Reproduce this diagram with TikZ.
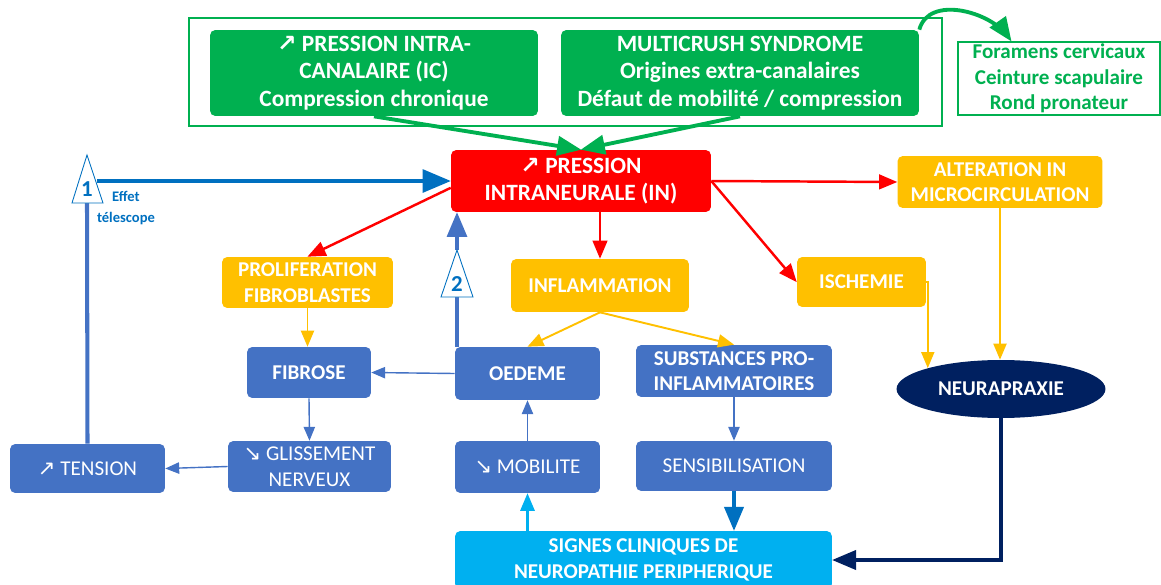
\documentclass[tikz,border=0pt]{standalone}
\usepackage{fontspec}
\setmainfont{Carlito}
\newfontfamily\arrowfont{DejaVu Sans}
\usetikzlibrary{arrows,shapes.geometric}
\definecolor{vert}{HTML}{00B050}
\definecolor{rouge}{HTML}{FF0000}
\definecolor{jaune}{HTML}{FFC000}
\definecolor{bleu}{HTML}{4472C4}
\definecolor{bleufonce}{HTML}{0070C0}
\definecolor{ciel}{HTML}{00B0F0}
\definecolor{marine}{HTML}{002060}
\newcommand{\hausse}{{\arrowfont\char"2197}}
\newcommand{\baisse}{{\arrowfont\char"2198}}

\begin{document}
\begin{tikzpicture}[x=0.02cm,y=-0.02cm]
\tikzstyle{every node}=[align=center, inner sep=1pt]
\tikzstyle{boite}=[rectangle, rounded corners=3pt, text=white, font=\bfseries\fontsize{12}{14.5}\selectfont]
\tikzstyle{grande}=[boite, font=\bfseries\fontsize{13.3}{15.5}\selectfont]
\tikzstyle{boitefine}=[boite, font=\fontsize{12}{14.5}\selectfont]
\tikzstyle{frouge}=[draw=rouge, line width=1.4pt, -triangle 45]
\tikzstyle{fjaune}=[draw=jaune, line width=1.1pt, -triangle 45]
\tikzstyle{fbleu}=[draw=bleu, line width=0.8pt, -triangle 45]
\tikzstyle{triangle}=[draw=bleufonce, line width=0.5pt, fill=white]
\useasboundingbox (0,0) rectangle (1161,585);

% cadre vert du haut
\node (cadre) [draw=vert, line width=1.6pt, minimum width=15.06cm, minimum height=2.16cm] at (565.5,72) {};
\node (ic) [grande, fill=vert, minimum width=6.56cm, minimum height=1.72cm] at (374,73) {\hausse{} PRESSION INTRA-\\CANALAIRE (IC)\\Compression chronique};
\node (multi) [grande, fill=vert, minimum width=7.16cm, minimum height=1.72cm] at (740,73) {MULTICRUSH SYNDROME\\Origines extra-canalaires\\Défaut de mobilité / compression};
\node (foramens) [draw=vert, line width=0.8pt, text=vert, font=\bfseries\fontsize{12}{14.5}\selectfont, minimum width=4.04cm, minimum height=1.46cm] at (1059,78.5) {Foramens cervicaux\\Ceinture scapulaire\\Rond pronateur};

% pression intraneurale
\node (pin) [grande, fill=rouge, minimum width=5.2cm, minimum height=1.24cm] at (581,181) {\hausse{} PRESSION\\INTRANEURALE (IN)};
\node (prolif) [boite, fill=jaune, minimum width=3.42cm, minimum height=1.02cm] at (307.5,282.5) {PROLIFERATION\\FIBROBLASTES};
\node (inflam) [boite, fill=jaune, minimum width=3.56cm, minimum height=1.06cm] at (600,285.5) {INFLAMMATION};
\node (ischemie) [boite, fill=jaune, minimum width=2.58cm, minimum height=1cm] at (861.5,282) {ISCHEMIE};
\node (alter) [boite, fill=jaune, minimum width=4.1cm, minimum height=1.04cm] at (1000,182) {ALTERATION IN\\MICROCIRCULATION};

% boites bleues
\node (fibrose) [boite, fill=bleu, minimum width=2.48cm, minimum height=1.02cm] at (309,372.5) {FIBROSE};
\node (oedeme) [boite, fill=bleu, minimum width=2.9cm, minimum height=1.06cm] at (527.5,373.5) {OEDEME};
\node (subst) [boite, fill=bleu, minimum width=3.92cm, minimum height=1.04cm] at (734,371) {SUBSTANCES PRO-\\INFLAMMATOIRES};
\node (neura) [ellipse, fill=marine, text=white, font=\bfseries\fontsize{12}{14.5}\selectfont, minimum width=4.18cm, minimum height=1.16cm] at (1001,389) {NEURAPRAXIE};
\node (tension) [boitefine, fill=bleu, minimum width=3.1cm, minimum height=0.98cm] at (87.5,468.5) {\hausse{} TENSION};
\node (gliss) [boitefine, fill=bleu, minimum width=3.26cm, minimum height=1.02cm] at (309.5,466.5) {\baisse{} GLISSEMENT\\NERVEUX};
\node (mobil) [boitefine, fill=bleu, minimum width=2.9cm, minimum height=1.04cm] at (527.5,467) {\baisse{} MOBILITE};
\node (sensib) [boitefine, fill=bleu, minimum width=3.92cm, minimum height=1cm] at (734,466) {SENSIBILISATION};
\node (signes) [boite, fill=ciel, minimum width=7.54cm, minimum height=1.16cm] at (643.5,560) {SIGNES CLINIQUES DE\\NEUROPATHIE PERIPHERIQUE};

% fleches vertes
\draw[vert, line width=2.2pt, -triangle 45] (ic.south) -- (pin.north);
\draw[vert, line width=2.2pt, -triangle 45] (multi.south) -- (pin.north);
\draw[vert, line width=2.2pt, -triangle 45] (multi.north east) to[out=75,in=125] (foramens.142);

% fleches rouges
\draw[frouge] (pin.183) -- (prolif.north);
\draw[frouge] (pin.south -| inflam.north) -- (inflam.north);
\draw[frouge] (pin.east) -- (alter.west);
\draw[frouge] (pin.east) -- (ischemie.west);

% fleches jaunes
\draw[fjaune] (inflam.south) -- (oedeme.north);
\draw[fjaune] (inflam.south) -- (subst.north);
\draw[fjaune] (prolif.south) -- (prolif.south |- fibrose.north);
\draw[fjaune] (ischemie.east) -| (neura.164);
\draw[fjaune] (alter.south) -- (alter.south |- neura.north);

% fleches bleues
\draw[fbleu] (oedeme.west) -- (fibrose.east);
\draw[fbleu] (fibrose.south) -- (gliss.north);
\draw[fbleu] (gliss.west) -- (tension.east);
\draw[fbleu] (mobil.north) -- (oedeme.south);
\draw[fbleu] (subst.south) -- (sensib.north);
\draw[bleufonce, line width=2.2pt, -triangle 45] (sensib.south) -- (sensib.south |- signes.north);
\draw[ciel, line width=1.3pt, -triangle 45] (signes.north -| mobil.south) -- (mobil.south);
\draw[marine, line width=2.2pt, -triangle 45] (neura.south) |- (signes.east);

% boucles 1 et 2
\coordinate (t1bas) at (87,203);
\coordinate (t1fleche) at (97,181);
\coordinate (t2bas) at (457,297);
\coordinate (t2haut) at (457,250);
\draw[bleu, line width=2.3pt] (tension.north) -- (t1bas);
\draw[bleufonce, line width=2.8pt, -triangle 45] (t1fleche) -- (pin.west);
\draw[bleu, line width=2.3pt] (t2bas |- oedeme.north) -- (t2bas);
\draw[bleu, line width=2.3pt, -triangle 45] (t2haut) -- (t2haut |- pin.south);
\draw[triangle] (87,155) -- (103,203) -- (72,203) -- cycle;
\draw[triangle] (t2haut) -- (473,297) -- (441,297) -- cycle;
\node (un) at (87,189) [text=bleufonce, font=\bfseries\fontsize{13}{13}\selectfont] {1};
\node (deux) at (457,284) [text=bleufonce, font=\bfseries\fontsize{13}{13}\selectfont] {2};
\node (effet) at (126,208) [text=bleufonce, font=\bfseries\fontsize{8.3}{11.5}\selectfont] {Effet\\télescope};
\end{tikzpicture}
\end{document}
